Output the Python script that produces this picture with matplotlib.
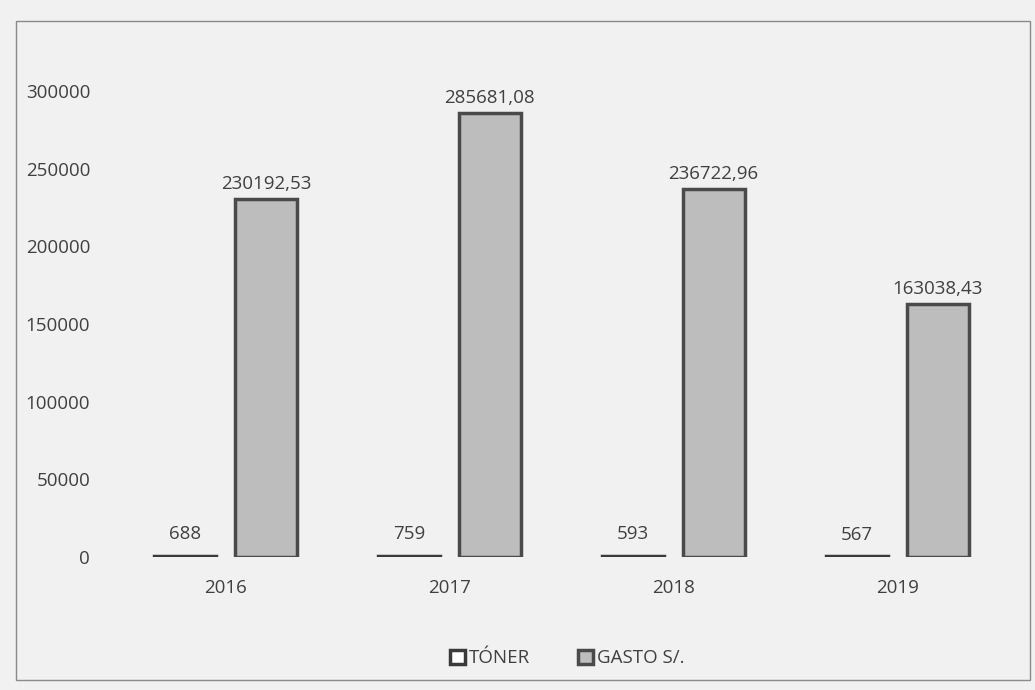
import matplotlib
matplotlib.use("Agg")
import matplotlib.pyplot as plt
import numpy as np
from matplotlib.patches import Rectangle

years = ["2016", "2017", "2018", "2019"]
toner = [688, 759, 593, 567]
gasto = [230192.53, 285681.08, 236722.96, 163038.43]
toner_labels = ["688", "759", "593", "567"]
gasto_labels = ["230192,53", "285681,08", "236722,96", "163038,43"]
yticks = [0, 50000, 100000, 150000, 200000, 250000, 300000]

TEXT = "#404040"
FONT = "Open Sans"
FS = 13.5

plt.rcParams["font.family"] = [FONT, "DejaVu Sans"]

fig = plt.figure(figsize=(10.35, 6.9), dpi=100, facecolor="#f1f1f1")
ax = fig.add_axes([0.110, 0.193, 0.865, 0.720])
ax.set_facecolor("none")

x = np.arange(len(years))
w = 0.277
off = 0.18
b1 = ax.bar(x - off, toner, w, color="white", edgecolor="#3a3a3a", linewidth=2.5, label="TÓNER")
b2 = ax.bar(x + off, gasto, w, color="#bdbdbd", edgecolor="#4a4a4a", linewidth=2.5, label="GASTO S/.")

for i in range(len(years)):
    ax.text(x[i] - off, toner[i] + 8000, toner_labels[i], ha="center", va="bottom", fontsize=FS, color=TEXT)
    ax.text(x[i] + off, gasto[i] + 4000, gasto_labels[i], ha="center", va="bottom", fontsize=FS, color=TEXT)

ax.set_xlim(-0.5, 3.5)
ax.set_ylim(0, 320000)
ax.set_yticks(yticks)
ax.set_yticklabels([str(v) for v in yticks])
ax.set_xticks(x)
ax.set_xticklabels(years)
ax.tick_params(axis="y", length=0, pad=17, labelsize=FS, labelcolor=TEXT)
ax.tick_params(axis="x", length=0, pad=16, labelsize=FS, labelcolor=TEXT)
for s in ax.spines.values():
    s.set_visible(False)

leg = fig.legend(handles=[b1, b2], loc="center", bbox_to_anchor=(0.548, 0.046), ncol=2,
                 frameon=False, fontsize=FS, handlelength=0.8, handleheight=0.8,
                 handletextpad=0.2, columnspacing=2.6)
for t in leg.get_texts():
    t.set_color(TEXT)

fig.patches.append(Rectangle((0.015, 0.015), 0.98, 0.955, transform=fig.transFigure,
                             fill=False, edgecolor="#8a8a8a", linewidth=1.0))

fig.savefig("out.png", dpi=100, facecolor=fig.get_facecolor())
